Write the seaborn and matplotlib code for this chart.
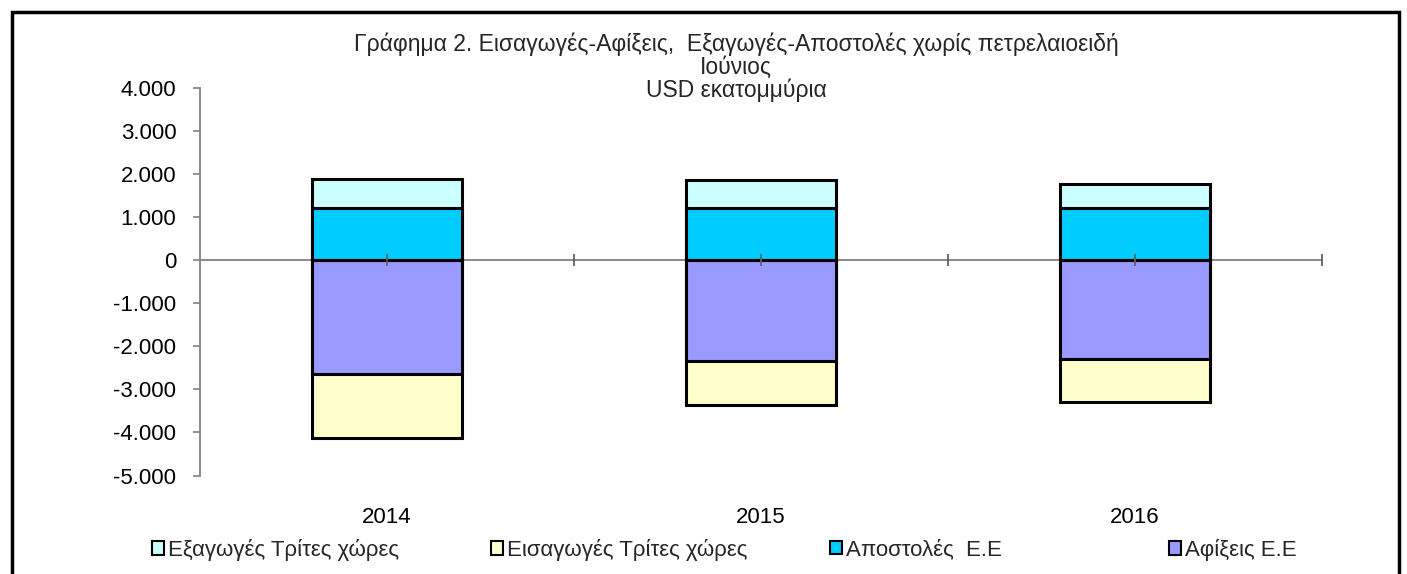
import matplotlib
matplotlib.use("Agg")
import matplotlib.pyplot as plt
import matplotlib.ticker as mticker
from matplotlib.patches import Patch, Rectangle
import seaborn as sns
import pandas as pd

years = ["2014", "2015", "2016"]
exports_third = [673, 642, 566]          # Εξαγωγές Τρίτες χώρες
apostoles_ee = [1223, 1214, 1214]        # Αποστολές Ε.Ε
afixeis_ee = [-2645, -2343, -2304]       # Αφίξεις Ε.Ε
imports_third = [-1490, -1030, -990]     # Εισαγωγές Τρίτες χώρες

c_exp = "#CCFFFF"
c_apo = "#00CCFF"
c_afi = "#9999FF"
c_imp = "#FFFFCC"

sns.set_theme(style="white")
plt.rcParams["font.family"] = ["Liberation Sans", "DejaVu Sans"]
FS = 16

fig = plt.figure(figsize=(14.07, 5.74), dpi=100)
ax = fig.add_axes([200/1407, 1-475.5/574, (1322-200)/1407, (475.5-88)/574])

pos_total = [a + e for a, e in zip(apostoles_ee, exports_third)]
neg_total = [a + i for a, i in zip(afixeis_ee, imports_third)]

layers = [(pos_total, c_exp), (apostoles_ee, c_apo), (neg_total, c_imp), (afixeis_ee, c_afi)]
for vals, col in layers:
    df = pd.DataFrame({"year": years, "v": vals})
    sns.barplot(data=df, x="year", y="v", color=col, width=0.4, ax=ax,
                edgecolor="black", linewidth=2.2, saturation=1, zorder=3)

ax.set_xlim(-0.5, 2.5)
ax.set_ylim(-5000, 4000)
ax.set_yticks(range(-5000, 4001, 1000))
ax.yaxis.set_major_formatter(mticker.FuncFormatter(lambda v, p: f"{int(v):,}".replace(",", ".")))
ax.set_xlabel("")
ax.set_ylabel("")
for s in ["top", "right", "bottom"]:
    ax.spines[s].set_visible(False)
ax.spines["left"].set_color("#808080")
ax.spines["left"].set_linewidth(1.3)
ax.tick_params(axis="y", which="major", left=True, length=5, width=1.2, color="#808080",
               pad=12, labelsize=FS, labelcolor="black")
ax.tick_params(axis="x", length=0, pad=23, labelsize=FS, labelcolor="black")

# zero line with tick marks
ax.axhline(0, color="#808080", linewidth=1.3, zorder=2)
tick_pos = [0, 0.5, 1, 1.5, 2, 2.5]
ax.plot(tick_pos, [0]*len(tick_pos), linestyle="none", marker="|", markersize=8,
        markeredgewidth=1.3, color="#606060", zorder=4, clip_on=False)

TX = 736/1407
fig.text(TX, 1-44/574, "Γράφημα 2. Εισαγωγές-Αφίξεις,  Εξαγωγές-Αποστολές χωρίς πετρελαιοειδή",
         ha="center", va="center", fontsize=16.5)
fig.text(TX, 1-67/574, "Ιούνιος", ha="center", va="center", fontsize=16.5)
fig.text(TX, 1-90/574, "USD εκατομμύρια", ha="center", va="center", fontsize=16.5)

labels = ["Εξαγωγές Τρίτες χώρες", "Εισαγωγές Τρίτες χώρες", "Αποστολές  Ε.Ε", "Αφίξεις Ε.Ε"]
cols = [c_exp, c_imp, c_apo, c_afi]
xs = [152, 491, 830, 1169]
for lab, col, x in zip(labels, cols, xs):
    fig.legend(handles=[Patch(facecolor=col, edgecolor="black", linewidth=1.5)], labels=[lab],
               loc="center left", bbox_to_anchor=(x/1407, 1-550/574), frameon=False,
               fontsize=FS, handlelength=0.55, handleheight=0.55, handletextpad=0.15,
               borderpad=0, borderaxespad=0)

fig.patches.append(Rectangle((12/1407, -0.05), (1399-12)/1407, 1.05-12/574,
                             transform=fig.transFigure, fill=False, edgecolor="black",
                             linewidth=2.5, clip_on=False))

fig.savefig("out.png", dpi=100)
